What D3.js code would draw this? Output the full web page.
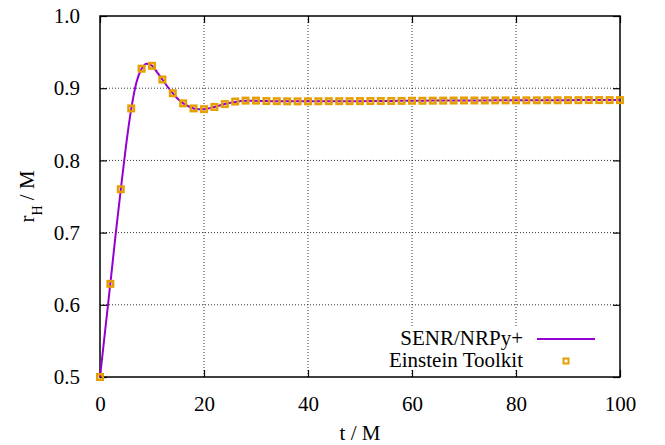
<!DOCTYPE html>
<html>
<head>
<meta charset="utf-8">
<script src="https://cdn.jsdelivr.net/npm/d3@7"></script>
<style>
  body { margin: 0; background: #fff; }
</style>
</head>
<body>
<div id="chart"></div>
<script>
// Data
// SENR/NRPy+ curve (t, r_H)
const lineT = [0, 1, 2, 3, 4, 5, 6, 7, 8, 9, 10, 11, 12, 13, 14, 15, 16, 17, 18, 19, 20,
  22, 24, 26, 28, 30, 32, 34, 36, 38, 40, 44, 48, 52, 56, 60, 64, 68, 72, 76, 80, 84, 88, 92, 96, 100];
const lineR = [0.5, 0.565, 0.63, 0.697, 0.76, 0.82, 0.871, 0.908, 0.927, 0.934, 0.931, 0.922, 0.912, 0.902, 0.893, 0.885, 0.879, 0.875, 0.872, 0.871, 0.871,
  0.874, 0.878, 0.881, 0.8825, 0.8827, 0.8822, 0.882, 0.8818, 0.8818, 0.8818, 0.882, 0.882, 0.8822, 0.8824, 0.8826, 0.8828, 0.883, 0.883, 0.8832, 0.8832, 0.8833, 0.8834, 0.8835, 0.8835, 0.8835];

// Einstein Toolkit markers, every 2 M
const etT = [0, 2, 4, 6, 8, 10, 12, 14, 16, 18, 20, 22, 24, 26, 28, 30, 32, 34, 36, 38, 40,
  42, 44, 46, 48, 50, 52, 54, 56, 58, 60, 62, 64, 66, 68, 70, 72, 74, 76, 78, 80,
  82, 84, 86, 88, 90, 92, 94, 96, 98, 100];
const etR = [0.5, 0.629, 0.76, 0.872, 0.927, 0.931, 0.912, 0.893, 0.879, 0.872, 0.871, 0.874, 0.878, 0.8815, 0.8828, 0.8828, 0.8822, 0.882, 0.8818, 0.8818, 0.8818,
  0.8819, 0.882, 0.882, 0.882, 0.8821, 0.8822, 0.8822, 0.8823, 0.8824, 0.8826, 0.8826, 0.8827, 0.8828, 0.8829, 0.883, 0.883, 0.883, 0.8831, 0.8831, 0.8832,
  0.8832, 0.8832, 0.8833, 0.8833, 0.8834, 0.8834, 0.8835, 0.8835, 0.8835, 0.8835];

const xTicks = [0, 20, 40, 60, 80, 100];
const yTicks = [0.5, 0.6, 0.7, 0.8, 0.9, 1.0];
const seriesNames = ["SENR/NRPy+", "Einstein Toolkit"];

const W = 665, H = 445;
const margin = { top: 16, right: 45, bottom: 68, left: 100 };
const width = W - margin.left - margin.right;
const height = H - margin.top - margin.bottom;

const lineColor = "#9400d3";
const markColor = "#e69f00";
const FONT = "'Liberation Serif', 'Times New Roman', Tinos, 'Nimbus Roman', 'DejaVu Serif', serif";
const FS = 21;

const svg = d3.select("#chart").append("svg")
  .attr("width", W).attr("height", H)
  .attr("font-family", FONT)
  .style("font-family", FONT);

const g = svg.append("g")
  .attr("transform", `translate(${margin.left},${margin.top})`);

const x = d3.scaleLinear().domain([0, 100]).range([0, width]);
const y = d3.scaleLinear().domain([0.5, 1.0]).range([height, 0]);

// Grid (interior ticks only)
g.append("g").selectAll("line")
  .data(xTicks.slice(1, -1)).enter().append("line")
  .attr("x1", d => x(d)).attr("x2", d => x(d))
  .attr("y1", 0).attr("y2", height)
  .attr("stroke", "#333").attr("stroke-width", 1).attr("stroke-dasharray", "1,2");

g.append("g").selectAll("line")
  .data(yTicks.slice(1, -1)).enter().append("line")
  .attr("x1", 0).attr("x2", width)
  .attr("y1", d => y(d)).attr("y2", d => y(d))
  .attr("stroke", "#333").attr("stroke-width", 1).attr("stroke-dasharray", "1,2");

// Opaque key box hides grid behind legend
const keyBox = { x0: 275, y0: 312, x1: width - 2, y1: 354 };
g.append("rect")
  .attr("x", keyBox.x0).attr("y", keyBox.y0)
  .attr("width", keyBox.x1 - keyBox.x0).attr("height", keyBox.y1 - keyBox.y0)
  .attr("fill", "#fff");

// Axes with inward ticks, mirrored
const tickLen = 7;
const fmtY = d3.format(".1f");

const xAxisB = g.append("g").attr("transform", `translate(0,${height})`)
  .call(d3.axisBottom(x).tickValues(xTicks).tickSize(-tickLen).tickPadding(tickLen + 12).tickFormat(d3.format("d")));
const xAxisT = g.append("g")
  .call(d3.axisTop(x).tickValues(xTicks).tickSize(-tickLen).tickFormat(""));
const yAxisL = g.append("g")
  .call(d3.axisLeft(y).tickValues(yTicks).tickSize(-tickLen).tickPadding(tickLen + 13).tickFormat(fmtY));
const yAxisR = g.append("g").attr("transform", `translate(${width},0)`)
  .call(d3.axisRight(y).tickValues(yTicks).tickSize(-tickLen).tickFormat(""));

[xAxisB, xAxisT, yAxisL, yAxisR].forEach(a => {
  a.attr("font-family", FONT).attr("font-size", FS);
  a.select(".domain").remove();
  a.selectAll(".tick line").attr("stroke", "#000").attr("stroke-width", 1.2);
  a.selectAll(".tick text").attr("fill", "#000");
});

// Border
g.append("rect")
  .attr("x", 0).attr("y", 0).attr("width", width).attr("height", height)
  .attr("fill", "none").attr("stroke", "#000").attr("stroke-width", 1.5);

// SENR/NRPy+ line
const line = d3.line()
  .x((d, i) => x(lineT[i]))
  .y(d => y(d))
  .curve(d3.curveMonotoneX);

g.append("path")
  .datum(lineR)
  .attr("d", line)
  .attr("fill", "none")
  .attr("stroke", lineColor)
  .attr("stroke-width", 2);

// Einstein Toolkit markers (open squares)
const ms = 5.5;
g.append("g").selectAll("rect")
  .data(etR).enter().append("rect")
  .attr("x", (d, i) => x(etT[i]) - ms / 2)
  .attr("y", d => y(d) - ms / 2)
  .attr("width", ms).attr("height", ms)
  .attr("fill", "none")
  .attr("stroke", markColor)
  .attr("stroke-width", 2.5);

// Legend
const legend = g.append("g").attr("font-size", FS);
const textRight = 423;
legend.append("text")
  .attr("x", textRight).attr("y", 329)
  .attr("text-anchor", "end")
  .text(seriesNames[0]);
legend.append("line")
  .attr("x1", 437).attr("x2", 495)
  .attr("y1", 323).attr("y2", 323)
  .attr("stroke", lineColor).attr("stroke-width", 2);

legend.append("text")
  .attr("x", textRight).attr("y", 351)
  .attr("text-anchor", "end")
  .text(seriesNames[1]);
legend.append("rect")
  .attr("x", 466 - 2.5).attr("y", 345 - 2.5)
  .attr("width", 5).attr("height", 5)
  .attr("fill", "#fff")
  .attr("stroke", markColor).attr("stroke-width", 2);

// Axis labels
svg.append("text")
  .attr("x", margin.left + width / 2)
  .attr("y", 440)
  .attr("text-anchor", "middle")
  .attr("font-size", FS)
  .text("t / M");

const yLab = svg.append("text")
  .attr("transform", `translate(34,${margin.top + height / 2}) rotate(-90)`)
  .attr("text-anchor", "middle")
  .attr("font-size", FS);
yLab.append("tspan").text("r");
yLab.append("tspan").attr("baseline-shift", "sub").attr("font-size", 14).text("H");
yLab.append("tspan").text(" / M");
</script>
</body>
</html>
